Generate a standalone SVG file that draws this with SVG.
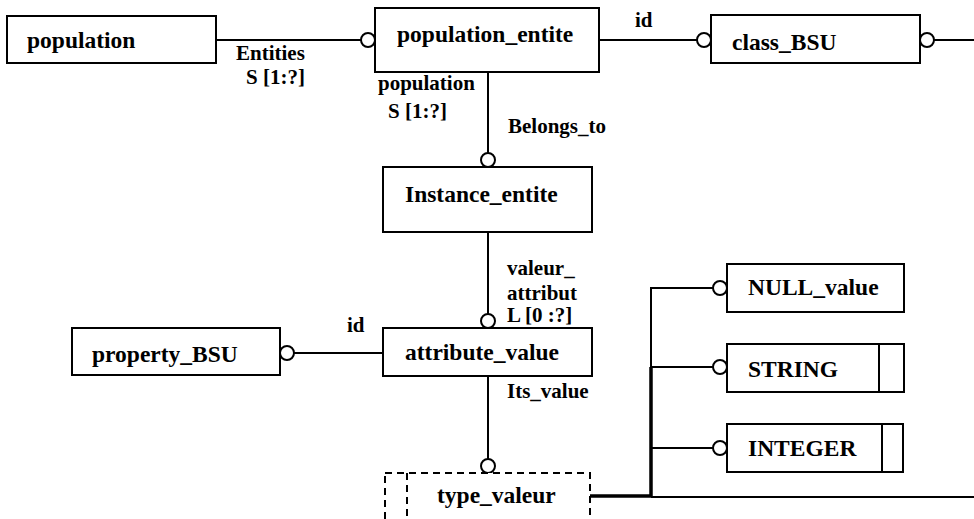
<svg xmlns="http://www.w3.org/2000/svg" width="974" height="519" viewBox="0 0 974 519">
<style>
.box{fill:#fff;stroke:#000;stroke-width:2}
.dash{fill:#fff;stroke:#000;stroke-width:2;stroke-dasharray:7,5}
.ln{fill:none;stroke:#000;stroke-width:2}
.thick{fill:none;stroke:#000;stroke-width:3.5}
.circ{fill:#fff;stroke:#000;stroke-width:2}
.nt{font-family:"Liberation Serif","Times New Roman",serif;font-weight:bold;font-size:23.5px;fill:#000}
.lt{font-family:"Liberation Serif","Times New Roman",serif;font-weight:bold;font-size:21px;fill:#000}
</style>
<rect width="974" height="519" fill="#fff"/>
<g id="connectors">
<line class="ln" x1="216" y1="40" x2="361" y2="40"/>
<circle class="circ" cx="368" cy="40" r="7"/>
<line class="ln" x1="599" y1="40" x2="697" y2="40"/>
<circle class="circ" cx="704" cy="40" r="7"/>
<line class="ln" x1="934" y1="40" x2="974" y2="40"/>
<circle class="circ" cx="927" cy="40" r="7"/>
<line class="ln" x1="488" y1="72" x2="488" y2="153"/>
<circle class="circ" cx="488" cy="160" r="7"/>
<line class="ln" x1="488" y1="232" x2="488" y2="314"/>
<circle class="circ" cx="488" cy="321" r="7"/>
<line class="ln" x1="488" y1="376" x2="488" y2="459"/>
<circle class="circ" cx="488" cy="466" r="7"/>
<line class="ln" x1="294" y1="353" x2="383" y2="353"/>
<circle class="circ" cx="287" cy="353" r="7"/>
<polyline class="thick" points="590,496 651,496 651,367"/>
<line class="ln" x1="651" y1="367" x2="651" y2="287"/>
<line class="ln" x1="650" y1="288" x2="713" y2="288"/>
<circle class="circ" cx="720" cy="288" r="7"/>
<line class="ln" x1="651" y1="367" x2="713" y2="367"/>
<circle class="circ" cx="720" cy="367" r="7"/>
<line class="ln" x1="651" y1="448" x2="713" y2="448"/>
<circle class="circ" cx="720" cy="448" r="7"/>
<line class="ln" x1="651" y1="497" x2="974" y2="497"/>
<text class="lt" x="236" y="60">Entities</text>
<text class="lt" x="246" y="84">S [1:?]</text>
<text class="lt" x="635" y="27">id</text>
<text class="lt" x="378" y="90">population</text>
<text class="lt" x="388" y="118">S [1:?]</text>
<text class="lt" x="508" y="133">Belongs_to</text>
<text class="lt" x="507" y="275">valeur_</text>
<text class="lt" x="507" y="300">attribut</text>
<text class="lt" x="507" y="322">L [0 :?]</text>
<text class="lt" x="347" y="332">id</text>
<text class="lt" x="507" y="398">Its_value</text>
</g>
<g id="population"><rect class="box" x="7" y="16" width="209" height="47"/><text class="nt" x="27" y="48">population</text></g>
<g id="population_entite"><rect class="box" x="375" y="8" width="224" height="64"/><text class="nt" x="397" y="42">population_entite</text></g>
<g id="class_BSU"><rect class="box" x="711" y="15" width="209" height="48"/><text class="nt" x="732" y="50">class_BSU</text></g>
<g id="Instance_entite"><rect class="box" x="383" y="167" width="209" height="65"/><text class="nt" x="405" y="202">Instance_entite</text></g>
<g id="attribute_value"><rect class="box" x="383" y="328" width="209" height="48"/><text class="nt" x="405" y="360">attribute_value</text></g>
<g id="property_BSU"><rect class="box" x="72" y="328" width="208" height="47"/><text class="nt" x="92" y="362">property_BSU</text></g>
<g id="NULL_value"><rect class="box" x="727" y="264" width="177" height="48"/><text class="nt" x="748" y="295">NULL_value</text></g>
<g id="STRING"><rect class="box" x="727" y="344" width="177" height="48"/><line class="ln" x1="879" y1="344" x2="879" y2="392"/><text class="nt" x="748" y="377">STRING</text></g>
<g id="INTEGER"><rect class="box" x="727" y="424" width="176" height="48"/><line class="ln" x1="882" y1="424" x2="882" y2="472"/><text class="nt" x="748" y="456">INTEGER</text></g>
<g id="type_valeur"><rect class="dash" x="385" y="473" width="205" height="70"/><line class="dash" x1="407" y1="473" x2="407" y2="543"/><text class="nt" x="437" y="503">type_valeur</text></g>
</svg>
